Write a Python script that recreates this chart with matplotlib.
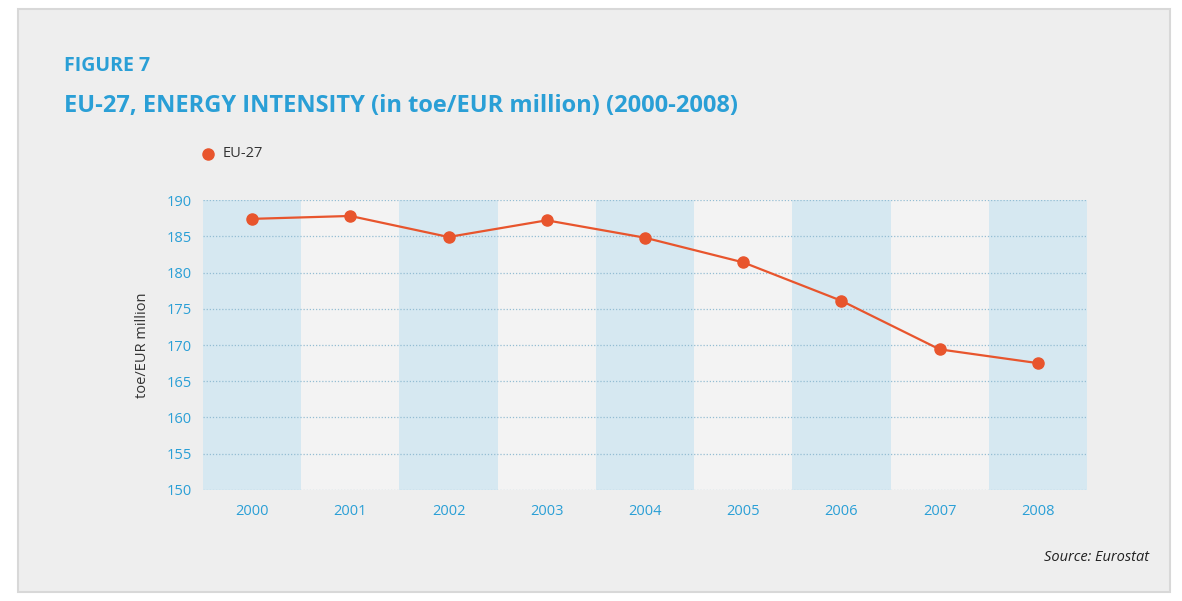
import numpy as np
import matplotlib.pyplot as plt
from matplotlib.patches import Rectangle

years = ['2000', '2001', '2002', '2003', '2004', '2005', '2006', '2007', '2008']
eu27 = [187.4, 187.8, 184.9, 187.2, 184.8, 181.4, 176.1, 169.4, 167.5]
yticks = [150, 155, 160, 165, 170, 175, 180, 185, 190]

blue = '#2a9fd6'
orange = '#e8552d'
plt.rcParams['font.family'] = ['Open Sans', 'DejaVu Sans']

fig = plt.figure(figsize=(11.82, 6.01), dpi=100)
fig.patch.set_facecolor('white')
# paper sheet
fig.patches.append(Rectangle((0.015, 0.015), 0.975, 0.97, transform=fig.transFigure,
                             facecolor='#eeeeee', edgecolor='#d8d8d8', lw=1.5, zorder=-5))

ax = fig.add_axes([0.1717, 0.1847, 0.7479, 0.4825])
ax.set_zorder(2)
ax.set_facecolor('#f3f3f3')
x = np.arange(len(years))
for i in x:
    if i % 2 == 0:
        ax.axvspan(i - 0.5, i + 0.5, color='#d6e8f1', zorder=0, lw=0)
for v in yticks:
    ax.axhline(v, color='#94bdd3', lw=0.9, ls=(0, (1, 1.5)), zorder=1)

ax.plot(x, eu27, color=orange, lw=1.6, marker='o', ms=8, zorder=3)
ax.set_xlim(-0.5, len(years) - 0.5)
ax.set_ylim(150, 190)
ax.set_xticks(x)
ax.set_xticklabels(years)
ax.set_yticks(yticks)
ax.tick_params(length=0, colors=blue, labelsize=10.5)
ax.tick_params(axis='x', pad=10)
ax.tick_params(axis='y', pad=8)
for s in ax.spines.values():
    s.set_visible(False)
ax.set_ylabel('toe/EUR million', color='#333333', fontsize=10.5, labelpad=12)

fig.text(0.054, 0.89, 'FIGURE 7', color=blue, fontsize=14, fontweight='bold', va='center')
fig.text(0.054, 0.823, 'EU-27, ENERGY INTENSITY (in toe/EUR million) (2000-2008)',
         color=blue, fontsize=17, fontweight='bold', va='center')
fig.lines.append(plt.Line2D([0.176], [0.744], transform=fig.transFigure, marker='o',
                            color=orange, ms=8, lw=0))
fig.text(0.188, 0.744, 'EU-27', color='#333333', fontsize=10.5, va='center')
fig.text(0.972, 0.073, 'Source: Eurostat', color='#222222', fontsize=10.5,
         style='italic', ha='right', va='center')

fig.savefig('out.png', dpi=100, facecolor=fig.get_facecolor())
